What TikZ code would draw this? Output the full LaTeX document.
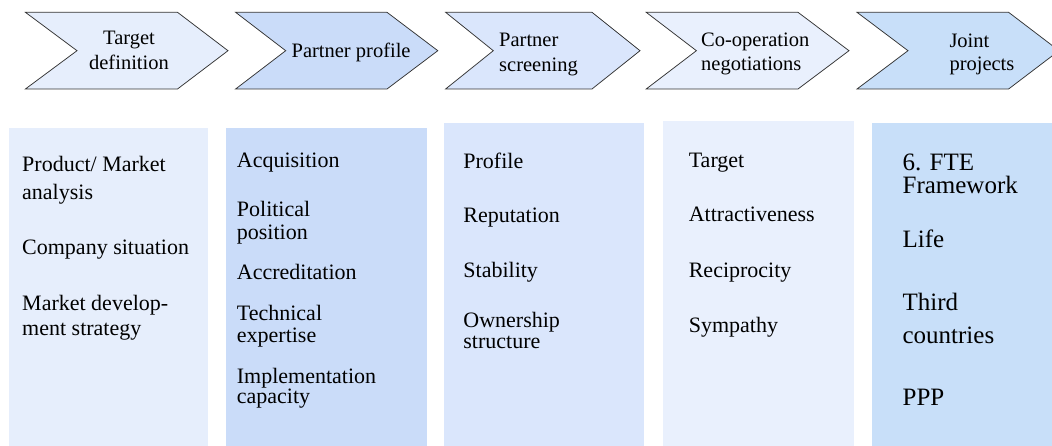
\documentclass[tikz,border=0pt]{standalone}
\usepackage{fontspec}
\setmainfont{Liberation Serif}
\definecolor{cA}{HTML}{E6EEFC}
\definecolor{cB}{HTML}{CADCF9}
\definecolor{cC}{HTML}{DAE6FC}
\definecolor{cD}{HTML}{E9F0FD}
\definecolor{cE}{HTML}{C8DFF9}
\definecolor{edge}{HTML}{333333}
\begin{document}
\begin{tikzpicture}[x=1pt,y=-1pt,
  chev/.style={draw=edge, line width=0.75pt, line join=miter},
  panel/.style={draw=none},
  ctext/.style={inner sep=0pt, font=\fontsize{20.5}{24}\selectfont},
  cleft/.style={ctext, anchor=base west},
  ccent/.style={ctext, anchor=base},
  btext/.style={inner sep=0pt, anchor=base west, font=\fontsize{22}{26}\selectfont},
  bbig/.style={inner sep=0pt, anchor=base west, font=\fontsize{25}{30}\selectfont}]
\useasboundingbox (0,0) rectangle (1052,446);

% chevrons
\path[chev, fill=cA] (25.4,12.3) -- (177.5,12.3) -- (228,50.7) -- (177.5,89) -- (25.4,89) -- (77,50.7) -- cycle;
\path[chev, fill=cB] (235.6,12.3) -- (387,12.3) -- (437.8,50.7) -- (387,89) -- (235.6,89) -- (285.7,50.7) -- cycle;
\path[chev, fill=cC] (445.6,12.3) -- (592,12.3) -- (640,50.7) -- (592,89) -- (445.6,89) -- (493.3,50.7) -- cycle;
\path[chev, fill=cD] (646.2,12.3) -- (798,12.3) -- (849,50.7) -- (798,89) -- (646.2,89) -- (696.4,50.7) -- cycle;
\path[chev, fill=cE] (857,12.3) -- (1008.6,12.3) -- (1059,50.7) -- (1008.6,89) -- (857,89) -- (908,50.7) -- cycle;

% chevron labels
\node[ccent] (t1a) at (129,45) {Target};
\node[ccent] (t1b) at (129,70) {definition};
\node[cleft] (t2) at (291.4,57.6) {Partner profile};
\node[cleft] (t3a) at (499,46.3) {Partner};
\node[cleft] (t3b) at (499,71.3) {screening};
\node[cleft] (t4a) at (701,46.9) {Co-operation};
\node[cleft] (t4b) at (701,70.8) {negotiations};
\node[cleft] (t5a) at (949.3,47.5) {Joint};
\node[cleft] (t5b) at (949.3,70.8) {projects};

% panels
\path[panel, fill=cA] (8.5,127.6) rectangle (208.3,446);
\path[panel, fill=cB] (226,127.6) rectangle (426.6,446);
\path[panel, fill=cC] (444,123.5) rectangle (644,446);
\path[panel, fill=cD] (662.7,121.2) rectangle (854,446);
\path[panel, fill=cE] (872,122.6) rectangle (1052,446);

% panel 1
\node[btext] (p1a) at (22,172) {Product/ Market};
\node[btext] (p1b) at (22,199.7) {analysis};
\node[btext] (p1c) at (22,255) {Company situation};
\node[btext] (p1d) at (22,310) {Market develop-};
\node[btext] (p1e) at (22,335.8) {ment strategy};

% panel 2
\node[btext] (p2a) at (236.7,167.9) {Acquisition};
\node[btext] (p2b) at (236.7,217) {Political};
\node[btext] (p2c) at (236.7,239.1) {position};
\node[btext] (p2d) at (236.7,279.5) {Accreditation};
\node[btext] (p2e) at (236.7,320.7) {Technical};
\node[btext] (p2f) at (236.7,342.6) {expertise};
\node[btext] (p2g) at (236.7,383.2) {Implementation};
\node[btext] (p2h) at (236.7,403.4) {capacity};

% panel 3
\node[btext] (p3a) at (463.2,168.6) {Profile};
\node[btext] (p3b) at (463.2,222.6) {Reputation};
\node[btext] (p3c) at (463.2,277.4) {Stability};
\node[btext] (p3d) at (463.2,327.4) {Ownership};
\node[btext] (p3e) at (463.2,348.3) {structure};

% panel 4
\node[btext] (p4a) at (688.6,167.7) {Target};
\node[btext] (p4b) at (688.6,221.3) {Attractiveness};
\node[btext] (p4c) at (688.6,277.3) {Reciprocity};
\node[btext] (p4d) at (688.6,332.3) {Sympathy};

% panel 5
\node[bbig] (p5a) at (902.4,170.7) {6. FTE};
\node[bbig] (p5b) at (902.4,193.7) {Framework};
\node[bbig] (p5c) at (902.4,247.7) {Life};
\node[bbig] (p5d) at (902.4,310.8) {Third};
\node[bbig] (p5e) at (902.4,343.5) {countries};
\node[bbig] (p5f) at (902.4,405.8) {PPP};
\end{tikzpicture}
\end{document}
